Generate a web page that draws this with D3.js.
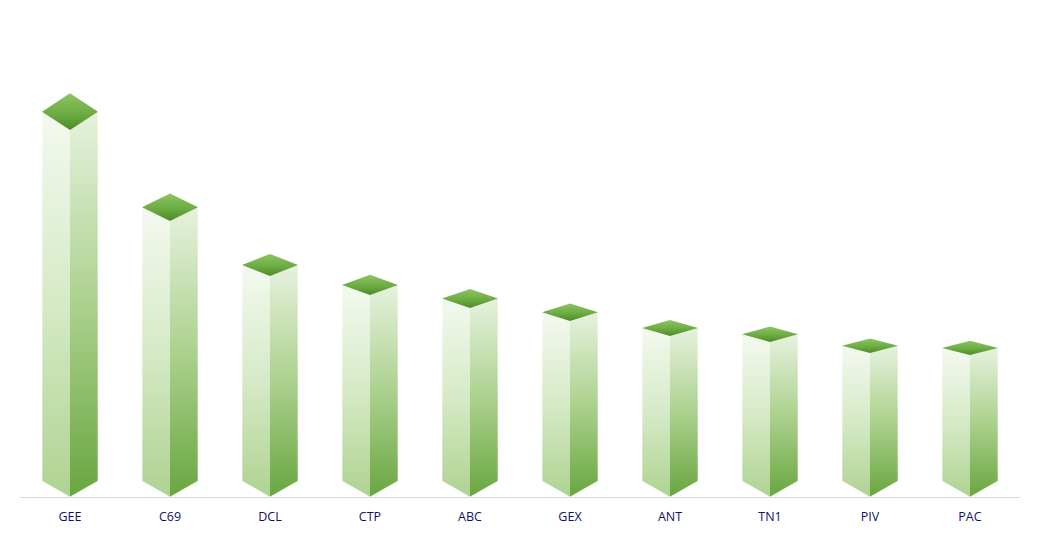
<!DOCTYPE html>
<html>
<head>
<meta charset="utf-8">
<script src="https://d3js.org/d3.v7.min.js"></script>
<style>
  html, body { margin: 0; padding: 0; background: #ffffff; }
  svg { display: block; }
</style>
</head>
<body>
<svg id="chart" width="1037" height="533"></svg>
<script>
const categories = ["GEE", "C69", "DCL", "CTP", "ABC", "GEX", "ANT", "TN1", "PIV", "PAC"];
const values = [367, 276, 221, 202, 189, 176, 161, 155, 144, 142];

const svg = d3.select("#chart");
const baseline = 497;
const bottomDepth = 16;
const topRatio = 0.1;

const x = d3.scaleBand().domain(categories).range([20, 1020]).paddingInner(0.44).paddingOuter(0.22);
const y = d3.scaleLinear().domain([0, 400]).range([baseline, baseline - 400]);

const defs = svg.append("defs");
function grad(id, stops, x1, y1, x2, y2) {
  const g = defs.append("linearGradient").attr("id", id)
    .attr("x1", x1).attr("y1", y1).attr("x2", x2).attr("y2", y2);
  stops.forEach(s => g.append("stop").attr("offset", s[0]).attr("stop-color", s[1]));
}
grad("gLeft", [[0, "#f4f9f0"], [0.5, "#d6eac6"], [1, "#aed391"]], 0, 0, 0, 1);
grad("gRight", [[0, "#e6f2de"], [0.5, "#acd18e"], [1, "#69a640"]], 0, 0, 0, 1);
grad("gTop", [[0, "#8cc662"], [0.6, "#6aa940"], [1, "#4c8a26"]], 0, 0, 0, 1);

svg.append("line")
  .attr("x1", x.range()[0]).attr("x2", x.range()[1])
  .attr("y1", baseline + 0.5).attr("y2", baseline + 0.5)
  .attr("stroke", "#d9d9d9").attr("stroke-width", 1);

const bars = svg.append("g").selectAll("g.bar")
  .data(categories.map((c, i) => ({ c, v: values[i] })))
  .join("g").attr("class", "bar");

bars.each(function(d) {
  const g = d3.select(this);
  const x0 = x(d.c), w = x.bandwidth(), xm = x0 + w / 2, x1 = x0 + w;
  const yf = y(d.v);
  const h = baseline - yf;
  const dd = h * topRatio;
  const ys = yf - dd / 2, yt = yf - dd;
  const yb = baseline, ybs = baseline - bottomDepth;
  const line = d3.line();
  g.append("path")
    .attr("d", line([[x0, ys], [xm, yf], [xm, yb], [x0, ybs]]) + "Z")
    .attr("fill", "url(#gLeft)");
  g.append("path")
    .attr("d", line([[xm, yf], [x1, ys], [x1, ybs], [xm, yb]]) + "Z")
    .attr("fill", "url(#gRight)");
  g.append("path")
    .attr("d", line([[xm, yt], [x1, ys], [xm, yf], [x0, ys]]) + "Z")
    .attr("fill", "url(#gTop)");
  g.append("path")
    .attr("d", line([[x0, ys], [x0, ybs], [xm, yb], [x1, ybs], [x1, ys]]))
    .attr("fill", "none").attr("stroke", "rgba(255,255,255,0.6)").attr("stroke-width", 1);
});

svg.append("g").selectAll("text")
  .data(categories)
  .join("text")
  .attr("x", d => x(d) + x.bandwidth() / 2)
  .attr("y", 521)
  .attr("text-anchor", "middle")
  .attr("font-family", "'Open Sans', 'DejaVu Sans', sans-serif")
  .attr("font-size", 12.5)
  .attr("fill", "#10106a")
  .text(d => d);
</script>
</body>
</html>
